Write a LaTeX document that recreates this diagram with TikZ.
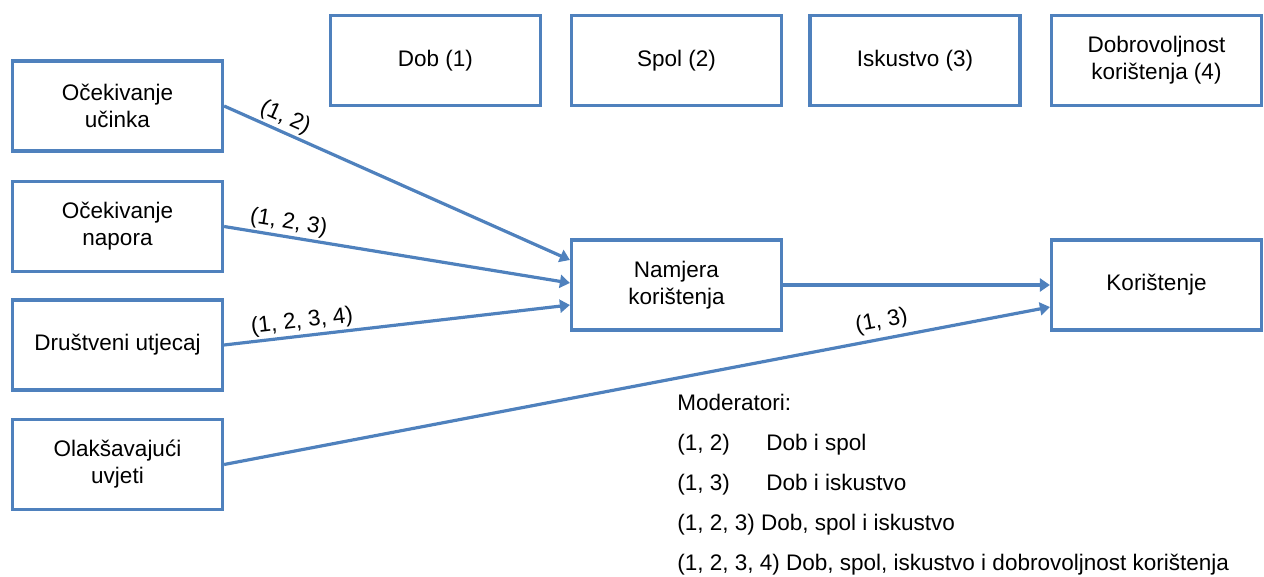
\documentclass[tikz,border=0pt]{standalone}
\usepackage{fontspec}
\setmainfont{Liberation Sans}
\usetikzlibrary{arrows.meta}
\definecolor{utautblue}{RGB}{79,129,189}
\tikzstyle{factor}=[draw=utautblue, line width=1.6, minimum width=105pt, minimum height=45pt, align=center, inner sep=2pt, font=\fontsize{11.25}{13.5}\selectfont]
\tikzstyle{effect}=[utautblue, line width=1.6, -{Triangle[length=5pt, width=6.5pt]}]
\tikzstyle{modlabel}=[sloped, above, inner sep=1pt, text=black, font=\fontsize{11.25}{13.5}\selectfont]
\tikzstyle{legend}=[anchor=base west, inner sep=0, font=\fontsize{11.25}{13.5}\selectfont]

\begin{document}
\begin{tikzpicture}[x=0.5pt, y=-0.5pt]
      \useasboundingbox (0,0) rectangle (1264,577);

      % moderators on top
      \node[factor] (dob) at (435.5,60.5) {Dob (1)};
      \node[factor] (spol) at (676.5,60.5) {Spol (2)};
      \node[factor] (iskustvo) at (915,60.5) {Iskustvo (3)};
      \node[factor] (dobrovoljnost) at (1156.5,60.5) {Dobrovoljnost\\korištenja (4)};

      % determinants
      \node[factor] (ucinak) at (117.5,106) {Očekivanje\\učinka};
      \node[factor] (napor) at (117.5,226.5) {Očekivanje\\napora};
      \node[factor] (utjecaj) at (117.5,345) {Društveni utjecaj};
      \node[factor] (uvjeti) at (117.5,464.5) {Olakšavajući\\uvjeti};

      \node[factor] (namjera) at (676.5,285) {Namjera\\korištenja};
      \node[factor] (koristenje) at (1156.5,285) {Korištenje};

      \draw[effect] (ucinak.east) -- ([yshift=12.5pt]namjera.west) node[modlabel, pos=.16] {(1, 2)};
      \draw[effect] (napor.east) -- ([yshift=1pt]namjera.west) node[modlabel, pos=.18] {(1, 2, 3)};
      \draw[effect] (utjecaj.east) -- ([yshift=-10pt]namjera.west) node[modlabel, pos=.23] {(1, 2, 3, 4)};
      \draw[effect] (namjera.east) -- (koristenje.west);
      \draw[effect] (uvjeti.east) -- ([yshift=-11pt]koristenje.west) node[modlabel, pos=.8, inner sep=2.5pt] {(1, 3)};

      \path (677,410) node[legend] (modtitle) {Moderatori:} ++(0,40) node[legend] (mod12) {(1, 2)} ++(0,40) node[legend] (mod13) {(1, 3)} ++(0,40) node[legend] (mod123) {(1, 2, 3) Dob, spol i iskustvo} ++(0,40) node[legend] (mod1234) {(1, 2, 3, 4) Dob, spol, iskustvo i dobrovoljnost korištenja};
      \path (766,450) node[legend] (mod12text) {Dob i spol} ++(0,40) node[legend] (mod13text) {Dob i iskustvo};
    \end{tikzpicture}
\end{document}
